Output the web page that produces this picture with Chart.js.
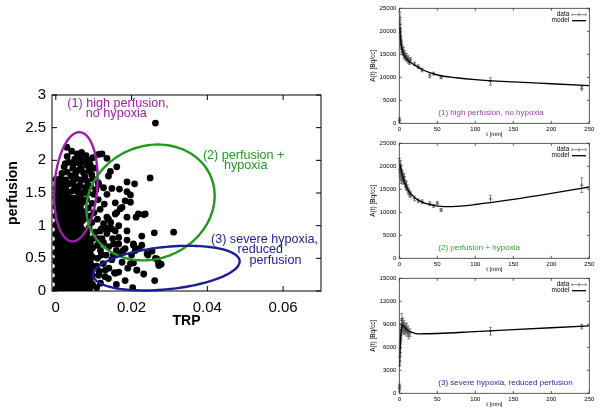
<!DOCTYPE html>
<html>
<head>
<meta charset="utf-8">
<title>Perfusion vs TRP</title>
<script src="https://cdn.jsdelivr.net/npm/chart.js@4.4.1/dist/chart.umd.min.js"></script>
<style>
  html, body { margin: 0; padding: 0; background: #fff; }
  body { width: 600px; height: 414px; position: relative; overflow: hidden; }
  .box { position: absolute; }
</style>
</head>
<body>
<div class="box" style="left:0;top:80px;width:340px;height:255px"><canvas id="scatterChart"></canvas></div>
<div class="box" style="left:340px;top:0;width:260px;height:138px"><canvas id="curve1"></canvas></div>
<div class="box" style="left:340px;top:135px;width:260px;height:138px"><canvas id="curve2"></canvas></div>
<div class="box" style="left:340px;top:270px;width:260px;height:138px"><canvas id="curve3"></canvas></div>
<script>
// ---- left panel: perfusion vs TRP ----
const trpTicks = [0, 0.02, 0.04, 0.06];
const perfusionTicks = [0, 0.5, 1, 1.5, 2, 2.5, 3];

// [TRP, perfusion]
const scatterPoints = [
  // dense core, low perfusion
  [0.0000,0.03],[0.0013,0.03],[0.0026,0.04],[0.0039,0.03],[0.0052,0.02],[0.0065,0.04],[0.0078,0.03],[0.0091,0.05],
  [0.0006,0.10],[0.0019,0.10],[0.0032,0.11],[0.0045,0.10],[0.0058,0.09],[0.0071,0.10],[0.0084,0.11],[0.0097,0.10],
  [0.0000,0.17],[0.0013,0.17],[0.0026,0.18],[0.0039,0.17],[0.0052,0.16],[0.0065,0.17],[0.0078,0.18],[0.0091,0.17],
  [0.0006,0.24],[0.0019,0.24],[0.0032,0.25],[0.0045,0.24],[0.0058,0.23],[0.0071,0.24],[0.0084,0.25],[0.0097,0.24],
  [0.0000,0.31],[0.0013,0.31],[0.0026,0.32],[0.0039,0.31],[0.0052,0.30],[0.0065,0.31],[0.0078,0.32],[0.0091,0.31],
  [0.0006,0.38],[0.0019,0.38],[0.0032,0.39],[0.0045,0.38],[0.0058,0.37],[0.0071,0.38],[0.0084,0.39],[0.0097,0.38],
  [0.0000,0.45],[0.0013,0.45],[0.0026,0.46],[0.0039,0.45],[0.0052,0.44],[0.0065,0.45],[0.0078,0.46],[0.0091,0.45],
  [0.0006,0.52],[0.0019,0.52],[0.0032,0.53],[0.0045,0.52],[0.0058,0.51],[0.0071,0.52],[0.0084,0.53],[0.0097,0.52],
  [0.0000,0.59],[0.0013,0.59],[0.0026,0.60],[0.0039,0.59],[0.0052,0.58],[0.0065,0.59],[0.0078,0.60],[0.0091,0.59],
  [0.0006,0.66],[0.0019,0.66],[0.0032,0.67],[0.0045,0.66],[0.0058,0.65],[0.0071,0.66],[0.0084,0.67],[0.0097,0.66],
  [0.0000,0.73],[0.0013,0.73],[0.0026,0.74],[0.0039,0.73],[0.0052,0.72],[0.0065,0.73],[0.0078,0.74],[0.0091,0.73],
  [0.0006,0.80],[0.0019,0.80],[0.0032,0.81],[0.0045,0.80],[0.0058,0.79],[0.0071,0.80],[0.0084,0.81],[0.0097,0.80],
  // dense core, mid perfusion
  [0.0000,0.87],[0.0013,0.87],[0.0026,0.88],[0.0039,0.87],[0.0052,0.86],[0.0065,0.87],
  [0.0006,0.94],[0.0019,0.94],[0.0032,0.95],[0.0045,0.94],[0.0058,0.93],[0.0071,0.94],
  [0.0000,1.01],[0.0013,1.01],[0.0026,1.02],[0.0039,1.01],[0.0052,1.00],[0.0065,1.01],
  [0.0006,1.08],[0.0019,1.08],[0.0032,1.09],[0.0045,1.08],[0.0058,1.07],[0.0071,1.08],
  [0.0000,1.15],[0.0013,1.15],[0.0026,1.16],[0.0039,1.15],[0.0052,1.14],[0.0065,1.15],
  [0.0006,1.22],[0.0019,1.22],[0.0032,1.23],[0.0045,1.22],[0.0058,1.21],[0.0071,1.22],
  [0.0000,1.29],[0.0013,1.29],[0.0026,1.30],[0.0039,1.29],[0.0052,1.28],[0.0065,1.29],
  [0.0006,1.36],[0.0019,1.36],[0.0032,1.37],[0.0045,1.36],[0.0058,1.35],[0.0071,1.36],
  [0.0000,1.43],[0.0013,1.43],[0.0026,1.44],[0.0039,1.43],[0.0052,1.42],[0.0065,1.43],
  // left edge column going up
  [0.0006,1.50],[0.0019,1.50],[0.0032,1.51],
  [0.0000,1.57],[0.0013,1.57],[0.0026,1.58],
  [0.0006,1.64],[0.0019,1.64],[0.0032,1.65],
  [0.0000,1.71],[0.0013,1.72],[0.0026,1.70],
  // middle region
  [0.0082,0.88],[0.0104,0.90],[0.0120,0.95],[0.0135,0.88],[0.0112,0.80],
  [0.0126,0.74],[0.0088,0.97],[0.0080,1.12],[0.0095,1.05],[0.0110,1.10],
  [0.0126,1.03],[0.0086,1.27],[0.0101,1.20],[0.0117,1.25],[0.0081,1.40],
  [0.0096,1.34],[0.0112,1.40],[0.0128,1.33],[0.0085,1.50],[0.0100,1.48],
  [0.0145,1.05],[0.0150,0.80],[0.0140,0.68],[0.0118,0.62],[0.0133,0.55],
  [0.0148,0.48],[0.0160,0.62],[0.0125,0.42],[0.0140,0.35],[0.0115,0.30],
  [0.0130,0.22],[0.0155,0.28],[0.0118,0.12],[0.0108,0.05],[0.0157,1.18],
  [0.0139,1.10],[0.0166,1.00],[0.0148,0.95],[0.0131,0.97],[0.0122,0.80],
  [0.0110,0.70],[0.0152,0.55],[0.0175,0.44],[0.0197,0.42],[0.0214,0.32],
  [0.0157,0.27],[0.0131,0.32],[0.0113,0.24],[0.0205,0.70],[0.0183,0.65],
  [0.0166,0.72],[0.0210,0.62],[0.0227,0.70],[0.0241,0.57],[0.0110,0.50],
  [0.0120,0.55],[0.0108,0.38],[0.0076,1.18],[0.0091,1.15],
  // high perfusion cluster
  [0.0029,2.20],[0.0042,2.14],[0.0056,2.10],[0.0068,2.12],[0.0080,2.07],
  [0.0098,2.04],[0.0113,2.09],[0.0050,2.02],[0.0035,1.97],[0.0062,1.95],
  [0.0075,1.98],[0.0091,1.93],[0.0022,1.90],[0.0045,1.88],[0.0060,1.85],
  [0.0073,1.81],[0.0088,1.84],[0.0102,1.88],[0.0030,1.82],[0.0040,1.76],
  [0.0055,1.72],[0.0068,1.70],[0.0083,1.68],[0.0098,1.72],[0.0112,1.66],
  [0.0036,1.64],[0.0050,1.60],[0.0064,1.62],[0.0078,1.58],[0.0092,1.60],
  [0.0106,1.55],[0.0044,1.53],[0.0058,1.52],[0.0016,1.80],[0.0052,1.80],
  [0.0067,1.88],[0.0083,1.92],[0.0047,1.95],[0.0030,2.06],[0.0064,2.03],
  [0.0089,2.00],[0.0095,1.78],[0.0077,1.75],[0.0046,1.68],[0.0060,1.58],
  [0.0072,1.50],[0.0085,1.62],[0.0025,1.95],
  // scattered points
  [0.0122,2.10],[0.0135,2.03],[0.0161,1.90],[0.0144,1.83],[0.0139,1.76],
  [0.0126,1.58],[0.0135,1.48],[0.0148,1.57],[0.0168,1.56],[0.0188,1.67],
  [0.0208,1.64],[0.0188,1.52],[0.0197,1.47],[0.0249,1.73],[0.0263,2.57],
  [0.0175,1.28],[0.0183,1.38],[0.0157,1.35],[0.0232,1.17],[0.0212,1.13],
  [0.0188,1.13],[0.0161,1.20],[0.0135,1.13],[0.0311,0.90],[0.0260,0.89],
  [0.0227,0.84],[0.0205,0.72],[0.0219,0.65],[0.0254,0.61],[0.0267,0.49],
  [0.0278,0.41],[0.0271,0.43],[0.0261,0.16],[0.0232,0.26],[0.0214,0.32],
  [0.0205,0.43],[0.0183,0.16],[0.0203,0.05],[0.0166,0.58],[0.0188,0.78],
  [0.0153,0.72],[0.0117,0.92],[0.0144,0.97],[0.0157,0.92],[0.0166,0.82],
  [0.0113,1.63],[0.0197,1.36],[0.0218,1.18],[0.0236,1.18],[0.0170,1.26],
  [0.0188,0.92],[0.0272,0.39],[0.0263,0.50],[0.0139,0.19],[0.0166,0.29],
  [0.0190,0.35],[0.0160,0.10],[0.0178,0.62],[0.0200,0.55],[0.0243,0.55]
];

// hand-drawn regions: centre and two half-axis vectors, in data units
const regionEllipses = [
  { c: [0.0053, 1.595], u: [0.0057, 0.03], v: [0.0007, 0.835], color: '#9c1fa5' },
  { c: [0.0250, 1.355], u: [0.0169, 0.05], v: [0.0010, 0.885], color: '#1f9a1f' },
  { c: [0.0292, 0.350], u: [0.0193, 0.12], v: [-0.0010, 0.320], color: '#1c1c96' }
];

// ---- right panels: A(t) curves ----
const timeTicks = [0, 50, 100, 150, 200, 250];
const activityTicks = [0, 5000, 10000, 15000, 20000, 25000];
const activityTicks3 = [0, 3000, 6000, 9000, 12000, 15000];

const times1 = [0.1, 0.2, 0.9, 1.1, 1.3, 1.5, 1.7, 2.0, 2.3, 2.6, 3.0, 3.4, 3.8, 4.3, 4.8, 5.5, 6.2, 7.0, 7.8, 8.6, 9.5, 10.5, 11.5, 12.5, 13.5, 15, 20, 25, 30, 40, 45, 55, 120, 240];
const values1 = [900, 600, 23000, 21500, 20500, 19800, 19000, 18300, 17800, 17200, 16800, 16300, 16000, 15700, 15400, 15800, 14800, 15100, 14500, 14200, 14600, 13900, 14100, 13600, 13300, 13800, 12900, 12300, 11600, 10300, 10800, 10000, 9100, 7600];
const errors1 = [300, 300, 1200, 1000, 1000, 900, 900, 900, 800, 800, 800, 800, 700, 700, 700, 700, 700, 700, 700, 600, 600, 600, 600, 600, 500, 500, 400, 400, 400, 400, 300, 300, 800, 400];
const modelTimes1 = [0.5, 1, 2, 3, 5, 8, 12, 20, 30, 40, 50, 75, 100, 150, 200, 250];
const modelValues1 = [21000, 19500, 17600, 16500, 15300, 14300, 13600, 12700, 11700, 11000, 10500, 9900, 9500, 9000, 8600, 8200];

const times2 = [0.1, 0.9, 1.1, 1.3, 1.5, 1.7, 2.0, 2.3, 2.6, 3.0, 3.4, 3.8, 4.3, 4.8, 5.5, 6.2, 7.0, 7.8, 8.6, 9.5, 10.5, 11.5, 12.5, 13.5, 15, 20, 25, 30, 40, 45, 50, 55, 120, 240];
const values2 = [20500, 20000, 19500, 18800, 20200, 19000, 18500, 17200, 19300, 18000, 17600, 17000, 18200, 17500, 16800, 17800, 17000, 16200, 15600, 16000, 15300, 14800, 14400, 14000, 13800, 13000, 12500, 12300, 11900, 11400, 12000, 10500, 12900, 15900];
const errors2 = [1200, 1200, 1000, 1000, 1000, 900, 900, 900, 900, 800, 800, 800, 800, 800, 700, 700, 700, 700, 700, 700, 600, 600, 600, 600, 600, 500, 400, 400, 400, 300, 300, 300, 800, 1600];
const modelTimes2 = [0.5, 1, 2, 3, 5, 8, 12, 20, 30, 40, 50, 60, 75, 100, 150, 200, 250];
const modelValues2 = [20500, 20200, 19500, 18800, 17500, 16000, 14700, 13200, 12200, 11700, 11350, 11250, 11300, 11700, 12800, 14100, 15500];

const times3 = [0.1, 0.2, 0.3, 0.6, 0.9, 1.2, 1.5, 1.8, 2.1, 2.5, 2.9, 3.3, 3.7, 4.2, 4.7, 5.3, 6.0, 6.8, 7.6, 8.5, 9.5, 10.5, 11.5, 12.5, 14, 120, 240];
const values3 = [500, 800, 1000, 4200, 5300, 6000, 6600, 7100, 7600, 8300, 8900, 9500, 9000, 8600, 9100, 8500, 8800, 8300, 8600, 8200, 8500, 8000, 8300, 7600, 7900, 8100, 8700];
const errors3 = [200, 200, 200, 600, 600, 700, 700, 700, 700, 800, 800, 900, 800, 700, 700, 700, 700, 600, 600, 600, 600, 600, 500, 500, 500, 500, 300];
const modelTimes3 = [0.3, 1, 2, 3, 4, 6, 10, 15, 25, 50, 100, 150, 200, 250];
const modelValues3 = [3500, 5800, 7600, 8600, 8900, 8700, 8300, 8000, 7750, 7800, 8050, 8300, 8550, 8800];

const FONT = "'Liberation Sans', Arial, Helvetica, sans-serif";
Chart.defaults.font.family = FONT;
Chart.defaults.color = '#000';
Chart.defaults.animation = false;

// frame round the plot with gnuplot-style inward ticks on all four sides
const frameTicks = {
  id: 'frameTicks',
  afterDatasetsDraw(chart, args, opts) {
    const { ctx, chartArea: a, scales: { x, y } } = chart;
    const len = opts.len;
    ctx.save();
    ctx.strokeStyle = opts.color;
    ctx.lineWidth = opts.width;
    ctx.beginPath();
    x.ticks.forEach(t => {
      const px = x.getPixelForValue(t.value);
      ctx.moveTo(px, a.bottom); ctx.lineTo(px, a.bottom - len);
      ctx.moveTo(px, a.top); ctx.lineTo(px, a.top + len);
    });
    y.ticks.forEach(t => {
      const py = y.getPixelForValue(t.value);
      ctx.moveTo(a.left, py); ctx.lineTo(a.left + len, py);
      ctx.moveTo(a.right, py); ctx.lineTo(a.right - len, py);
    });
    ctx.stroke();
    ctx.strokeRect(a.left, a.top, a.right - a.left, a.bottom - a.top);
    ctx.restore();
  }
};

// ellipses drawn through the scales
const regions = {
  id: 'regions',
  afterDatasetsDraw(chart) {
    const { ctx, scales: { x, y } } = chart;
    ctx.save();
    ctx.lineWidth = 2.4;
    regionEllipses.forEach(e => {
      ctx.strokeStyle = e.color;
      ctx.beginPath();
      for (let k = 0; k <= 120; k++) {
        const t = k / 120 * Math.PI * 2;
        const dx = e.c[0] + e.u[0] * Math.cos(t) + e.v[0] * Math.sin(t);
        const dy = e.c[1] + e.u[1] * Math.cos(t) + e.v[1] * Math.sin(t);
        const px = x.getPixelForValue(dx), py = y.getPixelForValue(dy);
        if (k === 0) ctx.moveTo(px, py); else ctx.lineTo(px, py);
      }
      ctx.closePath();
      ctx.stroke();
    });
    ctx.restore();
  }
};

// free text labels, canvas coordinates
const notes = {
  id: 'notes',
  afterDraw(chart, args, opts) {
    const ctx = chart.ctx;
    ctx.save();
    ctx.font = opts.font;
    ctx.textBaseline = 'middle';
    opts.items.forEach(n => {
      ctx.fillStyle = n.color;
      ctx.textAlign = n.align || 'center';
      ctx.fillText(n.text, n.x, n.y);
    });
    ctx.restore();
  }
};

new Chart(document.getElementById('scatterChart'), {
  type: 'scatter',
  data: {
    datasets: [{
      data: scatterPoints.map(p => ({ x: p[0], y: p[1] })),
      pointRadius: 3.4,
      pointHoverRadius: 3.4,
      backgroundColor: '#000',
      borderWidth: 0,
      clip: 0
    }]
  },
  options: {
    responsive: true,
    maintainAspectRatio: false,
    events: [],
    layout: { padding: { top: 13, right: 19, left: 0, bottom: 0 } },
    plugins: {
      legend: { display: false },
      tooltip: { enabled: false },
      frameTicks: { len: 5, color: '#000', width: 1 },
      notes: {
        font: '12.6px ' + FONT,
        items: [
          { text: '(1) high perfusion,', x: 118, y: 23.3, color: '#9c1fa5' },
          { text: 'no hypoxia', x: 116.3, y: 34, color: '#9c1fa5' },
          { text: '(2) perfusion +', x: 243.7, y: 76, color: '#1f9a1f' },
          { text: 'hypoxia', x: 245.7, y: 86, color: '#1f9a1f' },
          { text: '(3) severe hypoxia,', x: 264.5, y: 159.3, color: '#1c1c96' },
          { text: 'reduced', x: 260.3, y: 169.3, color: '#1c1c96' },
          { text: 'perfusion', x: 275.5, y: 180.7, color: '#1c1c96' }
        ]
      }
    },
    scales: {
      x: {
        type: 'linear',
        min: -0.001,
        max: 0.07,
        afterBuildTicks: s => { s.ticks = trpTicks.map(v => ({ value: v })); },
        afterFit: s => { s.height = 44; },
        grid: { display: false, drawTicks: false },
        border: { display: false },
        ticks: { padding: 8, font: { size: 15 }, maxRotation: 0, autoSkip: false, callback: v => String(v) },
        title: { display: true, text: 'TRP', font: { size: 14, weight: 'bold' }, padding: { top: 0, bottom: 5 } }
      },
      y: {
        type: 'linear',
        min: 0,
        max: 3,
        afterBuildTicks: s => { s.ticks = perfusionTicks.map(v => ({ value: v })); },
        afterFit: s => { s.width = 52; },
        grid: { display: false, drawTicks: false },
        border: { display: false },
        ticks: { padding: 6, font: { size: 15 }, autoSkip: false, callback: v => String(v) },
        title: { display: true, text: 'perfusion', font: { size: 14, weight: 'bold' }, padding: { top: 5, bottom: 0 } }
      }
    }
  },
  plugins: [frameTicks, regions, notes]
});

// error bars for the measured points
const errorBars = {
  id: 'errorBars',
  beforeDatasetsDraw(chart, args, opts) {
    const { ctx, scales: { x, y } } = chart;
    ctx.save();
    ctx.strokeStyle = '#555';
    ctx.lineWidth = 0.7;
    ctx.beginPath();
    opts.times.forEach((t, i) => {
      const px = x.getPixelForValue(t);
      const lo = y.getPixelForValue(opts.values[i] - opts.errors[i]);
      const hi = y.getPixelForValue(opts.values[i] + opts.errors[i]);
      ctx.moveTo(px, lo); ctx.lineTo(px, hi);
      ctx.moveTo(px - 1.5, lo); ctx.lineTo(px + 1.5, lo);
      ctx.moveTo(px - 1.5, hi); ctx.lineTo(px + 1.5, hi);
    });
    ctx.stroke();
    ctx.restore();
  }
};

// gnuplot style key, top right inside the plot
const curveKey = {
  id: 'curveKey',
  afterDraw(chart) {
    const { ctx, chartArea: a } = chart;
    const x1 = a.right - 17.3, x2 = a.right - 3.3;
    const y1 = a.top + 6.4, y2 = a.top + 12.4;
    ctx.save();
    ctx.font = '6.5px ' + FONT;
    ctx.fillStyle = '#000';
    ctx.textAlign = 'right';
    ctx.textBaseline = 'middle';
    ctx.fillText('data', a.right - 20, y1);
    ctx.fillText('model', a.right - 20, y2);
    ctx.strokeStyle = '#555';
    ctx.lineWidth = 0.7;
    ctx.beginPath();
    ctx.moveTo(x1, y1); ctx.lineTo(x2, y1);
    ctx.moveTo(x1, y1 - 1.5); ctx.lineTo(x1, y1 + 1.5);
    ctx.moveTo(x2, y1 - 1.5); ctx.lineTo(x2, y1 + 1.5);
    const xm = (x1 + x2) / 2;
    ctx.moveTo(xm, y1 - 1.8); ctx.lineTo(xm, y1 + 1.8);
    ctx.stroke();
    ctx.strokeStyle = '#000';
    ctx.lineWidth = 1.3;
    ctx.beginPath();
    ctx.moveTo(x1, y2); ctx.lineTo(x2, y2);
    ctx.stroke();
    ctx.restore();
  }
};

function makeCurveChart(id, times, values, errors, modelTimes, modelValues, yMax, yTicks, label, color) {
  return new Chart(document.getElementById(id), {
    type: 'scatter',
    data: {
      datasets: [
        {
          label: 'model',
          data: modelTimes.map((t, i) => ({ x: t, y: modelValues[i] })),
          showLine: true,
          borderColor: '#000',
          borderWidth: 1.3,
          pointRadius: 0,
          cubicInterpolationMode: 'monotone'
        },
        {
          label: 'data',
          data: times.map((t, i) => ({ x: t, y: values[i] })),
          showLine: false,
          pointStyle: 'cross',
          pointRadius: 1.8,
          borderColor: '#555',
          borderWidth: 0.8
        }
      ]
    },
    options: {
      responsive: true,
      maintainAspectRatio: false,
      events: [],
      layout: { padding: { top: 8.3, right: 10.7, left: 29, bottom: 0 } },
      plugins: {
        legend: { display: false },
        tooltip: { enabled: false },
        frameTicks: { len: 2.5, color: '#333', width: 0.8 },
        errorBars: { times: times, values: values, errors: errors },
        notes: { font: '8px ' + FONT, items: [{ text: label, x: 98.3, y: 112.9, color: color, align: 'left' }] }
      },
      scales: {
        x: {
          type: 'linear',
          min: 0,
          max: 250,
          afterBuildTicks: s => { s.ticks = timeTicks.map(v => ({ value: v })); },
          afterFit: s => { s.height = 14.7; },
          grid: { display: false, drawTicks: false },
          border: { display: false },
          ticks: { padding: 2, font: { size: 6 }, maxRotation: 0, autoSkip: false, callback: v => String(v) },
          title: { display: true, text: 't [min]', font: { size: 6 }, padding: { top: 0, bottom: 0 } }
        },
        y: {
          type: 'linear',
          min: 0,
          max: yMax,
          afterBuildTicks: s => { s.ticks = yTicks.map(v => ({ value: v })); },
          afterFit: s => { s.width = 30.3; },
          grid: { display: false, drawTicks: false },
          border: { display: false },
          ticks: { padding: 3, font: { size: 6 }, autoSkip: false, callback: v => String(v) },
          title: { display: true, text: 'A(t) [Bq/cc]', font: { size: 6.5 }, padding: { top: 0, bottom: 0 } }
        }
      }
    },
    plugins: [errorBars, frameTicks, curveKey, notes]
  });
}

makeCurveChart('curve1', times1, values1, errors1, modelTimes1, modelValues1, 25000, activityTicks,
  '(1) high perfusion, no hypoxia', '#a23aad');
makeCurveChart('curve2', times2, values2, errors2, modelTimes2, modelValues2, 25000, activityTicks,
  '(2) perfusion + hypoxia', '#2f9f2f');
makeCurveChart('curve3', times3, values3, errors3, modelTimes3, modelValues3, 15000, activityTicks3,
  '(3) severe hypoxia, reduced perfusion', '#2a2a9a');
</script>
</body>
</html>
